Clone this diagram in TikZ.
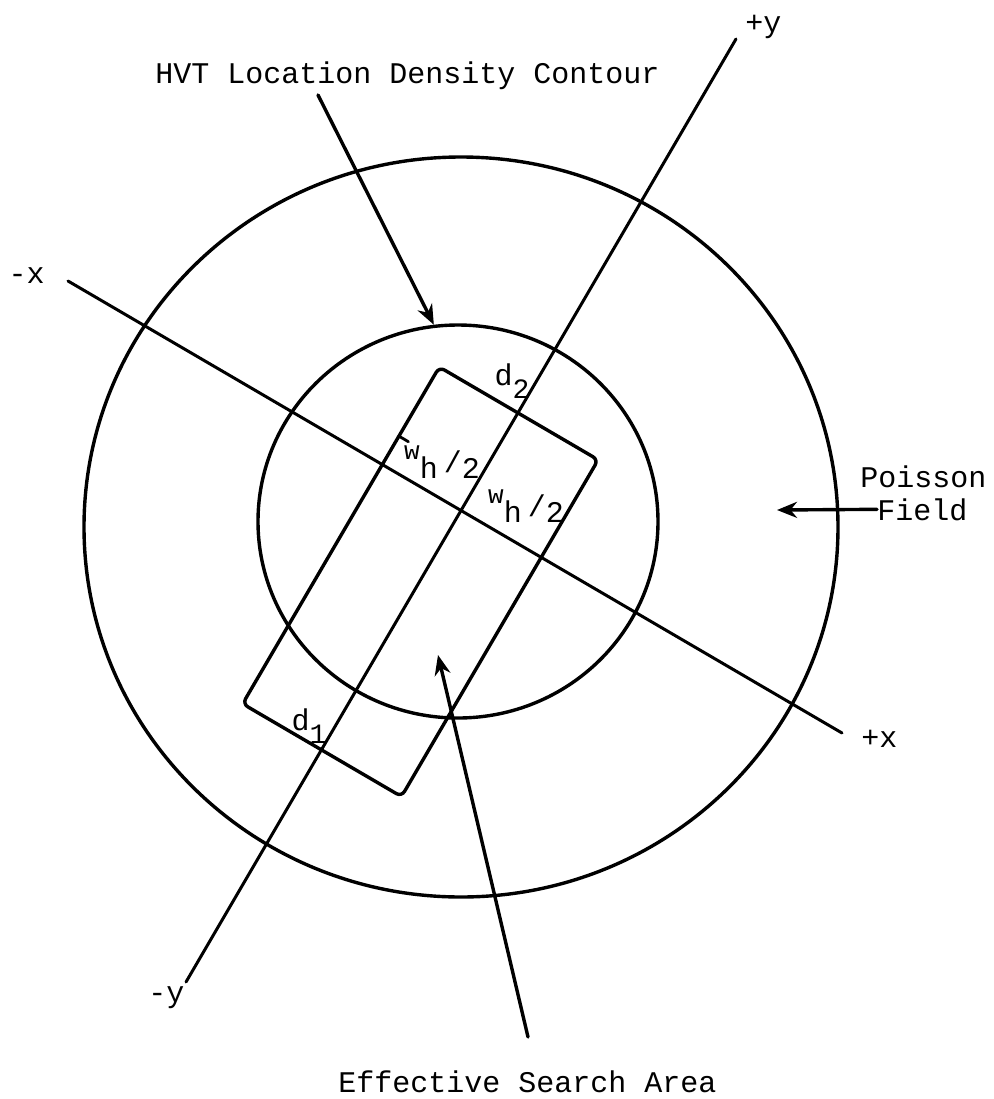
\documentclass[tikz,border=0pt]{standalone}
\usepackage{fontspec}
\setmonofont{Liberation Mono}
\usetikzlibrary{arrows.meta,shapes.geometric}
\begin{document}
\begin{tikzpicture}[x=0.5pt,y=-0.5pt,
  ln/.style={line width=1.7pt, line cap=round, line join=round},
  ring/.style={draw, ellipse, line width=1.7pt, inner sep=0pt},
  lbl/.style={font=\fontsize{15}{18}\selectfont\ttfamily, inner sep=0pt},
  arr/.style={ln, -{Stealth[length=10pt,width=8pt]}}]
\useasboundingbox (0,0) rectangle (993,1099);
% circles
\node[ring, minimum width=377pt, minimum height=370pt] (outer) at (461,527) {};
\node[ring, minimum width=200pt, minimum height=196.5pt] (inner) at (458,521.5) {};
% axes
\coordinate (ytop) at (736,39);
\coordinate (ybot) at (186,982);
\coordinate (xleft) at (68,281);
\coordinate (xright) at (842,733);
\draw[ln, line width=1.5pt] (ybot) -- (ytop);
\draw[ln, line width=1.5pt] (xleft) -- (xright);
% rectangle
\coordinate (A) at (439.3,367);
\coordinate (B) at (598.2,459.8);
\coordinate (C) at (401.5,796.6);
\coordinate (D) at (242.6,703.8);
\draw[ln, rounded corners=3pt] (A) -- (B) -- (C) -- (D) -- cycle;
\coordinate (t1) at (398.9,436.1);
\coordinate (t2) at (408.4,441.7);
\draw[ln, line width=1.4pt] (t1) -- (t2);
% axis labels
\node[lbl, anchor=base west] (py) at (745,32) {+y};
\node[lbl, anchor=base east] (mx) at (45,283) {-x};
\node[lbl, anchor=base west] (pxl) at (861,747) {+x};
\node[lbl, anchor=base west] (myl) at (148,1002) {-y};
% dimension labels
\node[lbl] (d2) at (512,381) {d\raisebox{-0.45em}{\fontsize{14}{15}\selectfont 2}};
\node[lbl] (d1) at (309,726) {d\raisebox{-0.45em}{\fontsize{14}{15}\selectfont 1}};
\node[lbl] (wl) at (442,462) {\raisebox{0.65em}{\fontsize{13}{14}\selectfont w}h\hspace{0.2em}\raisebox{0.2em}{/}2};
\node[lbl] (wr) at (526,506) {\raisebox{0.65em}{\fontsize{13}{14}\selectfont w}h\hspace{0.2em}\raisebox{0.2em}{/}2};
% titles
\node[lbl, anchor=base west] (hvt) at (155,83) {HVT Location Density Contour};
\node[lbl, anchor=base west] (pois) at (860,487) {Poisson};
\node[lbl, anchor=base west] (field) at (877,520) {Field};
\node[lbl, anchor=base west] (esa) at (338,1092) {Effective Search Area};
% arrows
\coordinate (hvts) at (318,95);
\draw[arr] (hvts) -- (inner.97);
\coordinate (pfend) at (777,510);
\draw[arr] (field.west) -- (pfend);
\coordinate (esas) at (528,1037);
\coordinate (esae) at (438,655);
\draw[arr] (esas) -- (esae);
\end{tikzpicture}
\end{document}
